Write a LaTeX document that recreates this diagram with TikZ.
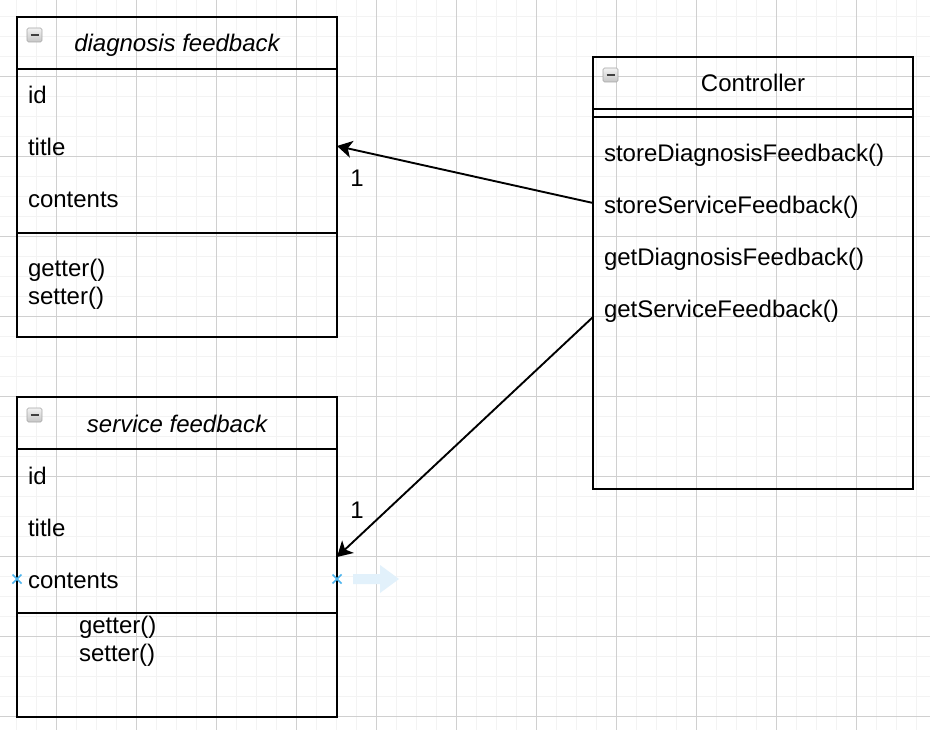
\documentclass[tikz,border=0pt]{standalone}
\usepackage{fontspec}
\setmainfont{Liberation Sans}
\usetikzlibrary{arrows.meta,positioning}

\definecolor{gridminor}{HTML}{F3F3F3}
\definecolor{gridmajor}{HTML}{D0D0D0}
\definecolor{hoverblue}{HTML}{4CB4EE}
\definecolor{hintblue}{HTML}{E2F1FB}
\newcommand{\classfont}{\fontsize{24}{28.8}\selectfont}

\tikzset{
  classbox/.style={draw, line width=1.8pt, minimum width=320pt, inner sep=0pt},
  headrow/.style={minimum width=320pt, minimum height=52pt, text height=21pt, text depth=3pt},
  row/.style={minimum height=52pt, text width=298pt, inner xsep=11pt, align=left, text height=21pt, text depth=3pt},
  oper/.style={anchor=base west, inner sep=0pt},
  sepline/.style={line width=1.8pt},
  assoc/.style={->, line width=1.9pt}
}

\begin{document}
\begin{tikzpicture}[x=1pt,y=-1pt,>={Stealth[length=15pt,width=17pt,inset=4pt]},every node/.style={font=\classfont, outer sep=0pt}]
   \fill[white] (0,0) rectangle (930,730);
   \useasboundingbox (0,0) rectangle (930,730);
   % grid
   \foreach \i in {0,...,45} \draw[gridminor, line width=1.5pt] (16.7+20*\i,0) -- (16.7+20*\i,730);
   \foreach \i in {0,...,35} \draw[gridminor, line width=1.5pt] (0,16.7+20*\i) -- (930,16.7+20*\i);
   \foreach \i in {0,...,10} \draw[gridmajor, line width=0.8pt] (56.7+80*\i,0) -- (56.7+80*\i,730);
   \foreach \i in {0,...,8} \draw[gridmajor, line width=0.8pt] (0,76.7+80*\i) -- (930,76.7+80*\i);

   % diagnosis feedback
   \node[classbox, minimum height=320pt] (diag) at (177,177) {};
   \node[headrow, below=0pt of diag.north] (diaghead) {\itshape diagnosis feedback};
   \draw[sepline] (diaghead.south west) -- (diaghead.south east);
   \node[row, below=0pt of diaghead] (diagid) {id};
   \node[row, below=0pt of diagid] (diagtitle) {title};
   \node[row, below=0pt of diagtitle] (diagcontents) {contents};
   \draw[sepline] ([yshift=-8pt]diagcontents.south west) -- ([yshift=-8pt]diagcontents.south east);
   \node[oper] (diagget) at (28,277) {getter()};
   \node[oper] (diagset) at (28,305) {setter()};

   % service feedback
   \node[classbox, minimum height=320pt] (svc) at (177,557) {};
   \node[headrow, below=0pt of svc.north] (svchead) {\itshape service feedback};
   \draw[sepline] (svchead.south west) -- (svchead.south east);
   \node[row, below=0pt of svchead] (svcid) {id};
   \node[row, below=0pt of svcid] (svctitle) {title};
   \node[row, below=0pt of svctitle] (svccontents) {contents};
   \draw[sepline] ([yshift=-8pt]svccontents.south west) -- ([yshift=-8pt]svccontents.south east);
   \node[oper] (svcget) at (79,633) {getter()};
   \node[oper] (svcset) at (79,661) {setter()};

   % Controller
   \node[classbox, minimum height=432pt] (ctrl) at (753,273) {};
   \node[headrow, below=0pt of ctrl.north] (ctrlhead) {Controller};
   \draw[sepline] (ctrlhead.south west) -- (ctrlhead.south east);
   \draw[sepline] ([yshift=-8pt]ctrlhead.south west) -- ([yshift=-8pt]ctrlhead.south east);
   \node[row, below=18pt of ctrlhead] (ctrlsdf) {storeDiagnosisFeedback()};
   \node[row, below=0pt of ctrlsdf] (ctrlssf) {storeServiceFeedback()};
   \node[row, below=0pt of ctrlssf] (ctrlgdf) {getDiagnosisFeedback()};
   \node[row, below=0pt of ctrlgdf] (ctrlgsf) {getServiceFeedback()};

   % collapse icons
   \foreach \b in {diag,svc,ctrl}{
      \shade[draw=gray!70, top color=gray!10, bottom color=gray!45, rounded corners=1.5pt, line width=0.6pt] ([xshift=10pt,yshift=-11pt]\b.north west) rectangle ++(15,14);
      \draw[line width=2.2pt, color=black!75] ([xshift=13.5pt,yshift=-18pt]\b.north west) -- ++(8,0);
   }

   % associations
   \draw[assoc] ([yshift=2pt]ctrlssf.west) -- ([yshift=1pt]diagtitle.east);
   \node (diagmult) at (357,178) {1};
   \draw[assoc] ([yshift=-8pt]ctrlgsf.west) -- ([yshift=-4pt]svccontents.north east);
   \node (svcmult) at (357,510) {1};

   % hover marks
   \foreach \p in {west,east}{
      \draw[hoverblue, line width=1.6pt] ([xshift=-4.5pt,yshift=-4.5pt]svccontents.\p) -- ([xshift=4.5pt,yshift=4.5pt]svccontents.\p);
      \draw[hoverblue, line width=1.6pt] ([xshift=-4.5pt,yshift=4.5pt]svccontents.\p) -- ([xshift=4.5pt,yshift=-4.5pt]svccontents.\p);
   }
   \fill[hintblue] (353,574) -- (380,574) -- (380,565) -- (399,579) -- (380,593) -- (380,584) -- (353,584) -- cycle;
\end{tikzpicture}
\end{document}
